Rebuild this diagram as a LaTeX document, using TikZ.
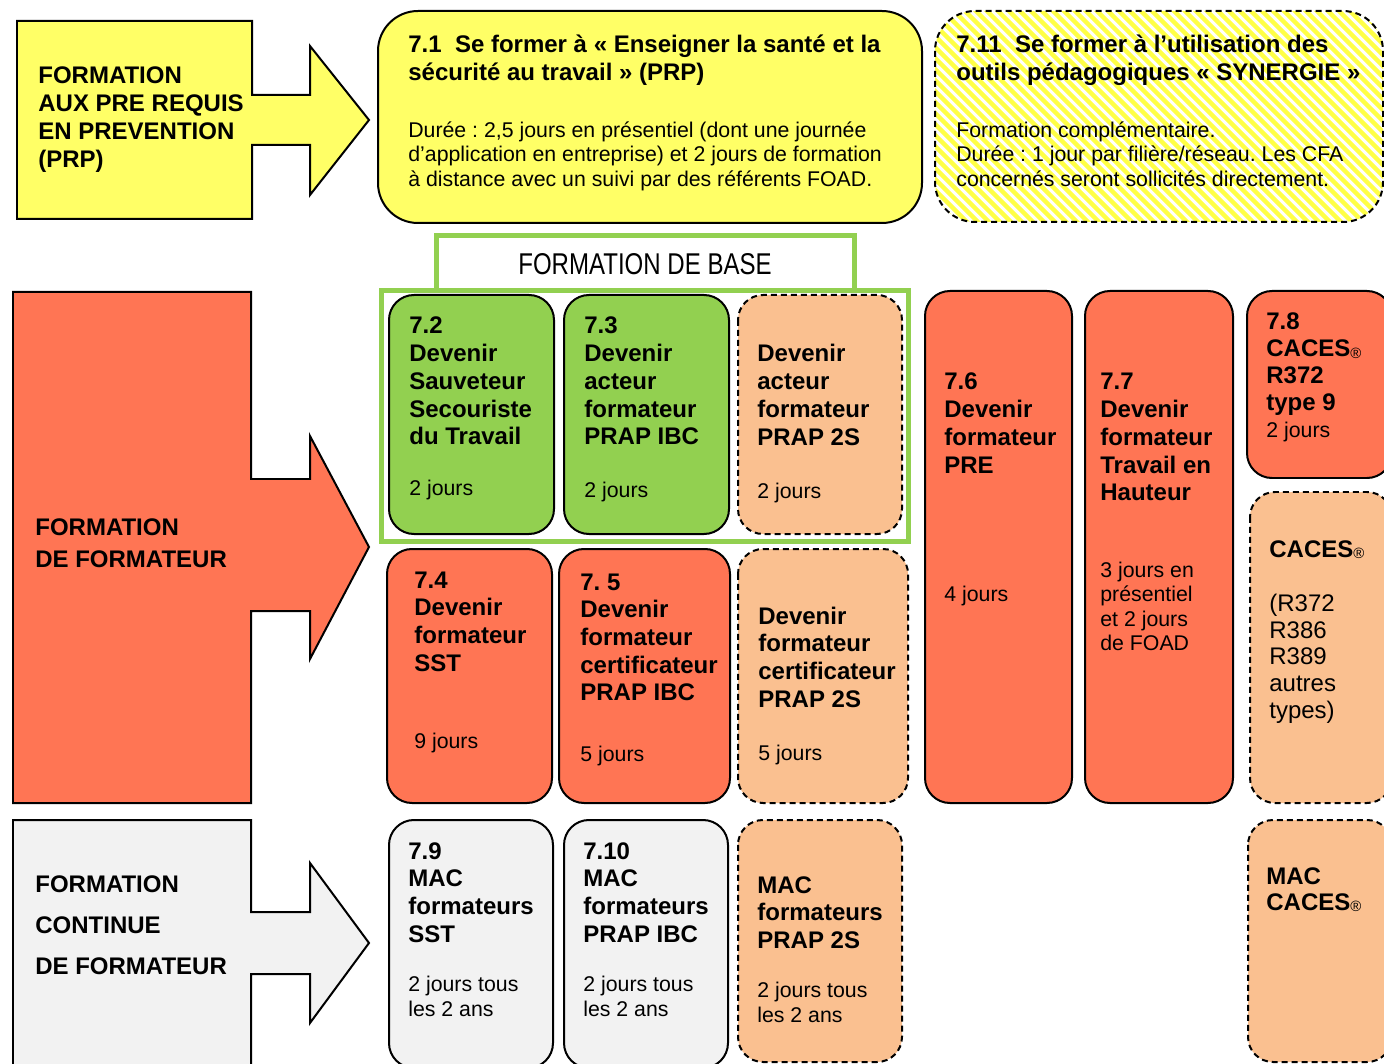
\documentclass[tikz,border=0pt]{standalone}
\usepackage{fontspec}
\setmainfont{Liberation Sans}
\newfontfamily\narrowf[FakeStretch=0.8]{Liberation Sans}
\definecolor{cyel}{RGB}{255,255,102}
\definecolor{cstripe}{RGB}{255,255,70}
\definecolor{corange}{RGB}{255,117,84}
\definecolor{cgreen}{RGB}{146,208,80}
\definecolor{cpeach}{RGB}{250,192,144}
\definecolor{cgray}{RGB}{242,242,242}
\newlength\px \setlength\px{0.02cm}
\newcommand\bt{\fontsize{13.66}{15.79}\selectfont\bfseries}
\newcommand\rt{\fontsize{12.12}{13.94}\selectfont\mdseries}
\newcommand\regm{\raisebox{-0.8pt}{\fontsize{8.5}{8.5}\selectfont\mdseries ®}}
\newcommand\blk[1]{\parbox[t]{10cm}{\raggedright #1}}
\frenchspacing
\tikzset{
  bx/.style={draw, line width=0.04cm, rounded corners=0.5cm},
  dbx/.style={bx, dash pattern=on 0.12cm off 0.08cm},
  arr/.style={draw, line width=0.04cm, line join=miter},
  txt/.style={anchor=base west, inner sep=0pt},
}
\begin{document}
\begin{tikzpicture}[x=0.02cm,y=-0.02cm]
\useasboundingbox (0,0) rectangle (1384,1064);

% ---------- left arrows
\path[arr, fill=cyel] (17,21) -- (252,21) -- (252,95) -- (310,95) -- (310,46) -- (369,120) -- (310,195) -- (310,145) -- (252,145) -- (252,219) -- (17,219) -- cycle;
\path[arr, fill=corange] (13,292) -- (251,292) -- (251,479) -- (310,479) -- (310,436) -- (369,547) -- (310,659) -- (310,611) -- (251,611) -- (251,803) -- (13,803) -- cycle;
\path[arr, fill=cgray] (13,820) -- (251,820) -- (251,912) -- (310,912) -- (310,863) -- (369,943) -- (310,1023) -- (310,974) -- (251,974) -- (251,1080) -- (13,1080) -- cycle;

\node[txt] (l1) at (38,84) {\blk{\fontsize{13.66}{15.93}\selectfont\bfseries FORMATION\\AUX PRE REQUIS\\EN PREVENTION\\(PRP)}};
\node[txt] (l2) at (35,535) {\blk{\fontsize{13.66}{18.78}\selectfont\bfseries FORMATION\\DE FORMATEUR}};
\node[txt] (l3) at (35,892) {\blk{\fontsize{13.66}{23.6}\selectfont\bfseries FORMATION\\CONTINUE\\DE FORMATEUR}};

% ---------- top boxes
\draw[line width=0.04cm, rounded corners=0.8cm, fill=cyel] (378,11) rectangle (922,223);
\node[txt] (t71) at (408,53) {\blk{\bt 7.1\ \ Se former à «~Enseigner la santé et la\\sécurité au travail~» (PRP)\par\vspace{32\px}\rt Durée~: 2,5 jours en présentiel (dont une journée\\d’application en entreprise) et 2 jours de formation\\à distance avec un suivi par des référents FOAD.}};

\begin{scope}
  \clip[rounded corners=0.8cm] (935,11) rectangle (1383,222);
  \fill[white] (935,11) rectangle (1383,222);
  \foreach \i in {0,...,75} {\draw[cstripe, line width=0.09cm] ({690+\i*11},0) -- ++(240,240);}
\end{scope}
\draw[line width=0.04cm, rounded corners=0.8cm, dash pattern=on 0.12cm off 0.08cm] (935,11) rectangle (1383,222);
\node[txt] (t711) at (956,53) {\blk{\bt 7.11\ \ Se former à l’utilisation des\\outils pédagogiques «~SYNERGIE~»\par\vspace{32\px}\rt Formation complémentaire.\\Durée~: 1 jour par filière/réseau. Les CFA\\concernés seront sollicités directement.}};

% ---------- formation de base frame
\draw[cgreen, line width=0.1cm, fill=white] (436.5,290.5) rectangle (854.5,235.5);
\draw[cgreen, line width=0.1cm] (381.5,290.5) rectangle (908.5,541.5);
\node[anchor=base, inner sep=0pt] (base) at (645,275) {\narrowf\fontsize{17.1}{18}\selectfont FORMATION DE BASE};

% ---------- row 1
\draw[bx, fill=cgreen] (389,295) rectangle (554,534);
\draw[bx, fill=cgreen] (564,295) rectangle (729,534);
\draw[dbx, fill=cpeach] (738,295) rectangle (902,534);
\node[txt] (t72) at (409,334) {\blk{\bt 7.2\\Devenir\\Sauveteur\\Secouriste\\du Travail\par\vspace{26\px}\rt 2 jours}};
\node[txt] (t73) at (584,334) {\blk{\bt 7.3\\Devenir\\acteur\\formateur\\PRAP IBC\par\vspace{28\px}\rt 2 jours}};
\node[txt] (ta2s) at (757,362) {\blk{\bt Devenir\\acteur\\formateur\\PRAP 2S\par\vspace{29\px}\rt 2 jours}};

% ---------- row 2
\draw[bx, fill=corange] (387,549) rectangle (552,803);
\draw[bx, fill=corange] (559,549) rectangle (730,803);
\draw[dbx, fill=cpeach] (738,549) rectangle (908,803);
\node[txt] (t74) at (414,588) {\blk{\bt 7.4\\Devenir\\formateur\\SST\par\vspace{53\px}\rt 9 jours}};
\node[txt] (t75) at (580,590) {\blk{\bt 7. 5\\Devenir\\formateur\\certificateur\\PRAP IBC\par\vspace{36\px}\rt 5 jours}};
\node[txt] (tc2s) at (758,624) {\blk{\bt Devenir\\formateur\\certificateur\\PRAP 2S\par\vspace{29\px}\rt 5 jours}};

% ---------- tall columns
\draw[bx, fill=corange] (925,291) rectangle (1072,803);
\draw[bx, fill=corange] (1085,291) rectangle (1233,803);
\draw[bx, fill=corange] (1247,291) rectangle (1392,478);
\draw[dbx, fill=cpeach] (1250,492) rectangle (1392,803);
\node[txt] (t76) at (944,390) {\blk{\bt 7.6\\Devenir\\formateur\\PRE\par\vspace{104\px}\rt 4 jours}};
\node[txt] (t77) at (1100,390) {\blk{\bt 7.7\\Devenir\\formateur\\Travail en\\Hauteur\par\vspace{52\px}\rt 3 jours en\\présentiel\\et 2 jours\\de FOAD}};
\node[txt] (t78) at (1266,330) {\blk{\fontsize{13.66}{15.2}\selectfont\bfseries 7.8\\CACES\regm\\R372\\type 9\par\vspace{3\px}\rt 2 jours}};
\node[txt] (tcaces) at (1269,557) {\blk{\bt CACES\regm\par\vspace{27.75\px}\fontsize{13.66}{15.22}\selectfont\mdseries (R372\\R386\\R389\\autres\\types)}};

% ---------- row 3
\draw[bx, fill=cgray] (389,820) rectangle (553,1068);
\draw[bx, fill=cgray] (564,820) rectangle (728,1068);
\draw[dbx, fill=cpeach] (738,820) rectangle (902,1062);
\draw[dbx, fill=cpeach] (1248,820) rectangle (1392,1062);
\node[txt] (t79) at (408,859) {\blk{\bt 7.9\\MAC\\formateurs\\SST\par\vspace{25\px}\rt 2 jours tous\\les 2 ans}};
\node[txt] (t710) at (583,859) {\blk{\bt 7.10\\MAC\\formateurs\\PRAP IBC\par\vspace{25\px}\rt 2 jours tous\\les 2 ans}};
\node[txt] (tm2s) at (757,893) {\blk{\bt MAC\\formateurs\\PRAP 2S\par\vspace{25\px}\rt 2 jours tous\\les 2 ans}};
\node[txt] (tmc) at (1266,884) {\blk{\fontsize{13.66}{14.8}\selectfont\bfseries MAC\\CACES\regm}};
\end{tikzpicture}
\end{document}
